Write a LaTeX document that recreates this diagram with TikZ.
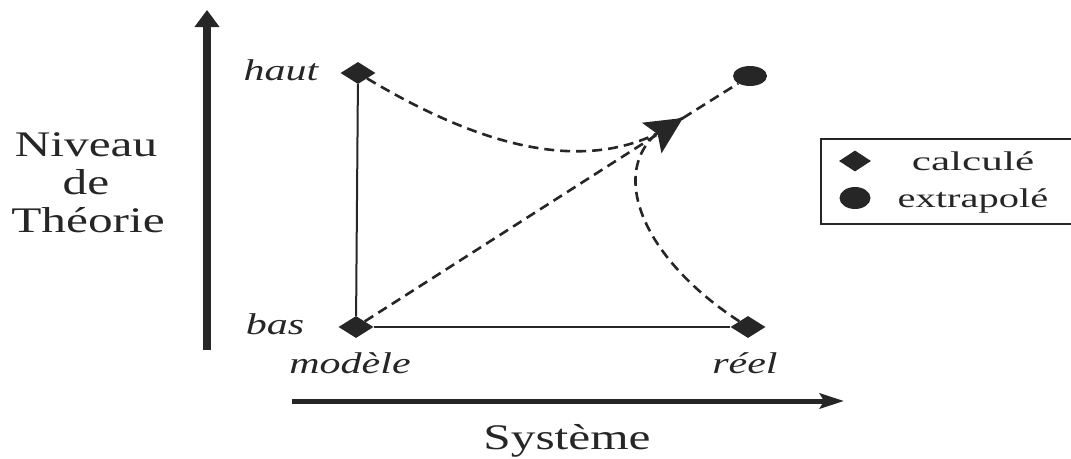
\documentclass[tikz,border=0pt]{standalone}
\usepackage{fontspec}
\setmainfont{Liberation Serif}
\usetikzlibrary{arrows.meta,shapes.geometric}
\newcommand{\sx}[2]{\scalebox{#1}[1]{#2}}
\begin{document}
\begin{tikzpicture}[x=1pt,y=-1pt,
  dia/.style={diamond, fill=black!85, draw=none, minimum width=35pt, minimum height=22pt, inner sep=0pt},
  ell/.style={ellipse, fill=black!85, draw=none, minimum width=34pt, minimum height=20pt, inner sep=0pt},
  lbl/.style={font=\fontsize{30}{32}\selectfont\itshape, inner sep=0pt, anchor=base, text=black!85},
  big/.style={font=\fontsize{36}{38}\selectfont, inner sep=0pt, anchor=base, text=black!85},
  leg/.style={font=\fontsize{27}{29}\selectfont, inner sep=0pt, anchor=base, text=black!85},
  thinline/.style={line width=2pt, black!85},
  dsh/.style={line width=2.6pt, black!85, dash pattern=on 10pt off 6pt},
  axis/.style={black!85},
]
\useasboundingbox (0,0) rectangle (1071,458);
% axes
\coordinate (vA) at (207,350);
\coordinate (vB) at (207,10);
\coordinate (hA) at (292,401);
\coordinate (hB) at (844,401);
\draw[axis, line width=8pt, -{Triangle[length=17pt,width=24pt]}] (vA) -- (vB);
\draw[axis, line width=5pt, -{Stealth[length=24pt,width=15pt,inset=4pt]}] (hA) -- (hB);
% axis titles
\node[big] (niv) at (86,156) {\sx{1.37}{Niveau}};
\node[big] (de) at (86,194) {\sx{1.37}{de}};
\node[big] (theo) at (88,232) {\sx{1.37}{Théorie}};
\node[big] (sys) at (567,449) {\sx{1.37}{Système}};
% points
\node[dia] (haut) at (358,73) {};
\node[dia] (bas) at (356,327) {};
\node[dia] (reel) at (748,327) {};
\node[ell] (extra) at (750,76) {};
\coordinate (tip) at (683,118);
% labels
\node[lbl] (lhaut) at (281,80) {\sx{1.4}{haut}};
\node[lbl] (lbas) at (275,334) {\sx{1.4}{bas}};
\node[lbl] (lmod) at (350,373) {\sx{1.4}{modèle}};
\node[lbl] (lreel) at (745,373) {\sx{1.4}{réel}};
% solid lines
\draw[thinline] (haut) -- (bas);
\draw[thinline] (bas) -- (reel);
% dashed connections
\draw[dsh] (haut) .. controls (470,140) and (590,185) .. (tip);
\draw[dsh] (reel) .. controls (630,250) and (600,150) .. (tip);
\draw[dsh] (tip) -- (extra);
\draw[dsh, -{Stealth[length=37pt,width=36pt,inset=7pt]}] (bas) -- (tip);
% legend
\node[draw=black!85, line width=2pt, minimum width=265pt, minimum height=85pt, inner sep=0pt, anchor=north west] (legend) at (820,138) {};
\node[dia, minimum width=32pt, minimum height=21pt] (ldia) at (855,161) {};
\node[ell, minimum width=31pt, minimum height=22pt] (lell) at (855,198) {};
\node[leg] (lcalc) at (973,170) {\sx{1.6}{calculé}};
\node[leg] (lextra) at (973,207) {\sx{1.5}{extrapolé}};
\end{tikzpicture}
\end{document}
